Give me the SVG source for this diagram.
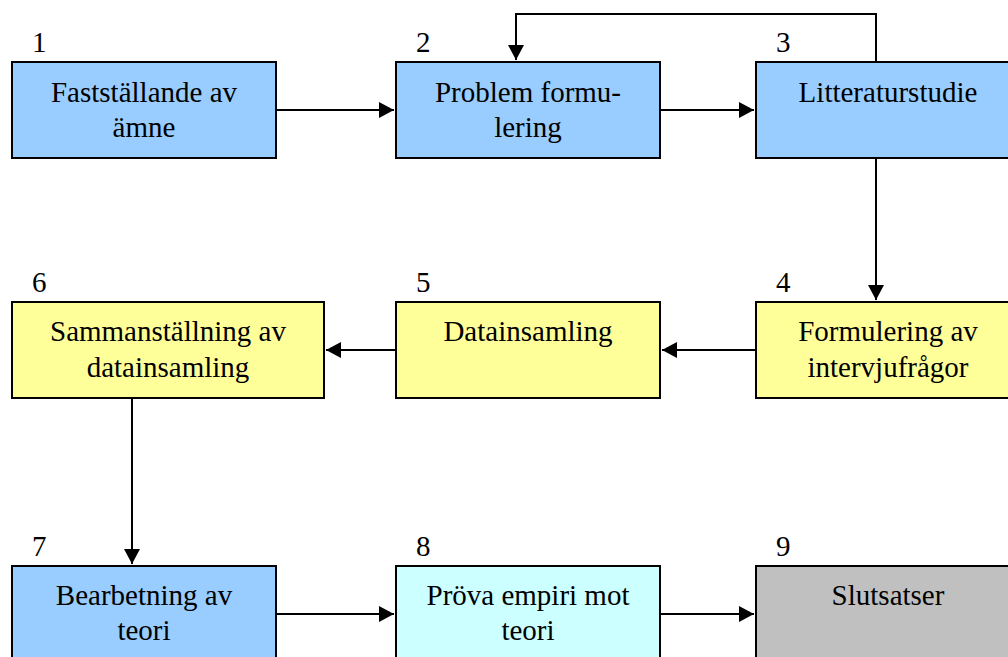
<svg xmlns="http://www.w3.org/2000/svg" width="1008" height="657" viewBox="0 0 1008 657">
<defs>
<marker id="arr" markerUnits="userSpaceOnUse" markerWidth="16" markerHeight="16" refX="15" refY="8" orient="auto">
<path d="M0,0 L15,8 L0,16 Z" fill="#000"/>
</marker>
</defs>
<rect width="1008" height="657" fill="#fff"/>
<g id="connectors" fill="none" stroke="#000" stroke-width="2">
<path d="M276,110 H394" marker-end="url(#arr)"/>
<path d="M660,110 H754" marker-end="url(#arr)"/>
<path d="M876,62 V14 H516 V60" marker-end="url(#arr)"/>
<path d="M876,158 V300" marker-end="url(#arr)"/>
<path d="M756,350 H662" marker-end="url(#arr)"/>
<path d="M396,350 H326" marker-end="url(#arr)"/>
<path d="M132,398 V564" marker-end="url(#arr)"/>
<path d="M276,614 H394" marker-end="url(#arr)"/>
<path d="M660,614 H754" marker-end="url(#arr)"/>
</g>
<g id="n1"><rect x="12" y="62" width="264" height="96" fill="#99CCFF" stroke="#000" stroke-width="2"/><text font-family="Times New Roman" font-size="29" x="32" y="52">1</text><text font-family="Times New Roman" font-size="29" text-anchor="middle" x="144" y="102">Fastställande av</text><text font-family="Times New Roman" font-size="29" text-anchor="middle" x="144" y="137">ämne</text></g>
<g id="n2"><rect x="396" y="62" width="264" height="96" fill="#99CCFF" stroke="#000" stroke-width="2"/><text font-family="Times New Roman" font-size="29" x="416" y="52">2</text><text font-family="Times New Roman" font-size="29" text-anchor="middle" x="528" y="102">Problem formu-</text><text font-family="Times New Roman" font-size="29" text-anchor="middle" x="528" y="137">lering</text></g>
<g id="n3"><rect x="756" y="62" width="264" height="96" fill="#99CCFF" stroke="#000" stroke-width="2"/><text font-family="Times New Roman" font-size="29" x="776" y="52">3</text><text font-family="Times New Roman" font-size="29" text-anchor="middle" x="888" y="102">Litteraturstudie</text></g>
<g id="n4"><rect x="756" y="302" width="264" height="96" fill="#FFFF99" stroke="#000" stroke-width="2"/><text font-family="Times New Roman" font-size="29" x="776" y="292">4</text><text font-family="Times New Roman" font-size="29" text-anchor="middle" x="888" y="341">Formulering av</text><text font-family="Times New Roman" font-size="29" text-anchor="middle" x="888" y="377">intervjufrågor</text></g>
<g id="n5"><rect x="396" y="302" width="264" height="96" fill="#FFFF99" stroke="#000" stroke-width="2"/><text font-family="Times New Roman" font-size="29" x="416" y="292">5</text><text font-family="Times New Roman" font-size="29" text-anchor="middle" x="528" y="341">Datainsamling</text></g>
<g id="n6"><rect x="12" y="302" width="312" height="96" fill="#FFFF99" stroke="#000" stroke-width="2"/><text font-family="Times New Roman" font-size="29" x="32" y="292">6</text><text font-family="Times New Roman" font-size="29" text-anchor="middle" x="168" y="341">Sammanställning av</text><text font-family="Times New Roman" font-size="29" text-anchor="middle" x="168" y="377">datainsamling</text></g>
<g id="n7"><rect x="12" y="566" width="264" height="96" fill="#99CCFF" stroke="#000" stroke-width="2"/><text font-family="Times New Roman" font-size="29" x="32" y="556">7</text><text font-family="Times New Roman" font-size="29" text-anchor="middle" x="144" y="605">Bearbetning av</text><text font-family="Times New Roman" font-size="29" text-anchor="middle" x="144" y="640">teori</text></g>
<g id="n8"><rect x="396" y="566" width="264" height="96" fill="#CCFFFF" stroke="#000" stroke-width="2"/><text font-family="Times New Roman" font-size="29" x="416" y="556">8</text><text font-family="Times New Roman" font-size="29" text-anchor="middle" x="528" y="605">Pröva empiri mot</text><text font-family="Times New Roman" font-size="29" text-anchor="middle" x="528" y="640">teori</text></g>
<g id="n9"><rect x="756" y="566" width="264" height="96" fill="#C0C0C0" stroke="#000" stroke-width="2"/><text font-family="Times New Roman" font-size="29" x="776" y="556">9</text><text font-family="Times New Roman" font-size="29" text-anchor="middle" x="888" y="605">Slutsatser</text></g>
</svg>
